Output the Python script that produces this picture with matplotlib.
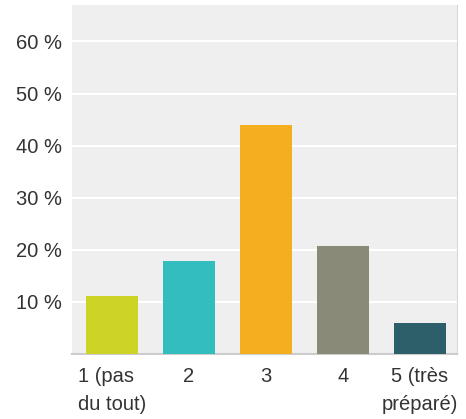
import matplotlib
matplotlib.use("Agg")
import matplotlib.pyplot as plt

# survey answers, share of respondents in %
categories = ["1 (pas\ndu tout)", "2", "3", "4", "5 (très\npréparé)"]
values = [11.2, 17.9, 44.0, 20.8, 6.0]
colors = ["#cdd426", "#33bdbf", "#f5ae20", "#8a8a78", "#2d5f6b"]
yticks = [10, 20, 30, 40, 50, 60]
ytick_labels = ["10 %", "20 %", "30 %", "40 %", "50 %", "60 %"]

plt.rcParams["font.family"] = ["Liberation Sans", "DejaVu Sans"]

fig = plt.figure(figsize=(4.66, 4.19), dpi=100)
ax = fig.add_axes([72 / 466, 65 / 419, 385 / 466, 349 / 419])
ax.set_facecolor("#efefef")

x = range(len(categories))
ax.bar(x, values, width=0.675, color=colors, zorder=3)

ax.set_xlim(-0.52, 4.48)
ax.set_ylim(0, 67)
ax.set_yticks(yticks)
ax.set_yticklabels(ytick_labels)
ax.set_xticks(list(x))
ax.set_xticklabels(categories, linespacing=1.65)
ax.get_xticklabels()[0].set_multialignment("left")
ax.yaxis.grid(True, color="white", linewidth=1.5, zorder=1)
ax.tick_params(length=0, labelsize=14.5, labelcolor="#333333")
ax.tick_params(axis="y", pad=7)
ax.tick_params(axis="x", pad=9)

for s in ["top", "left"]:
    ax.spines[s].set_visible(False)
ax.spines["right"].set_color("#d8d8d8")
ax.spines["bottom"].set_color("#cccccc")
ax.spines["bottom"].set_linewidth(1.5)

fig.savefig("out.png", dpi=100)
